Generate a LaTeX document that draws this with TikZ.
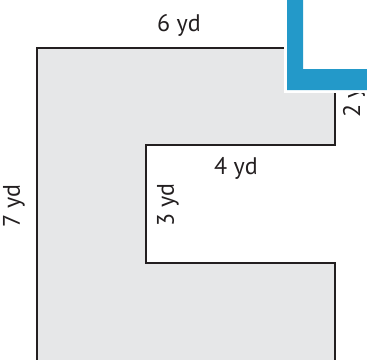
\documentclass[tikz,border=0pt]{standalone}
\usepackage{fontspec}
\setmainfont{PT Sans}
\definecolor{floorgray}{HTML}{E6E7E8}
\definecolor{edgeblack}{HTML}{231F20}
\definecolor{markblue}{HTML}{2399C9}
\begin{document}
\begin{tikzpicture}[x=1pt, y=-1pt,
    lbl/.style={font=\fontsize{24}{28}\selectfont, inner sep=0pt, text=edgeblack}]
    \useasboundingbox (0,0) rectangle (367,359);
    \clip (0,0) rectangle (367,359);
    % floor plan
    \draw[fill=floorgray, draw=edgeblack, line width=2.5pt, line join=miter]
        (37,380) -- (37,48) -- (335,48) -- (335,145) -- (146,145)
        -- (146,263) -- (335,263) -- (335,380);
    \node[lbl] (top) at (179,25) {6 yd};
    \node[lbl, rotate=90] (left) at (14,206) {7 yd};
    \node[lbl] (inner) at (236,168) {4 yd};
    \node[lbl, rotate=90] (depth) at (168,205) {3 yd};
    \node[lbl, rotate=90] (side) at (354,96) {2 yd};
    % blue corner mark
    \fill[white] (284,0) rectangle (367,93);
    \fill[markblue] (287,0) -- (287,90) -- (367,90) -- (367,69) -- (303,69) -- (303,0) -- cycle;
\end{tikzpicture}
\end{document}
